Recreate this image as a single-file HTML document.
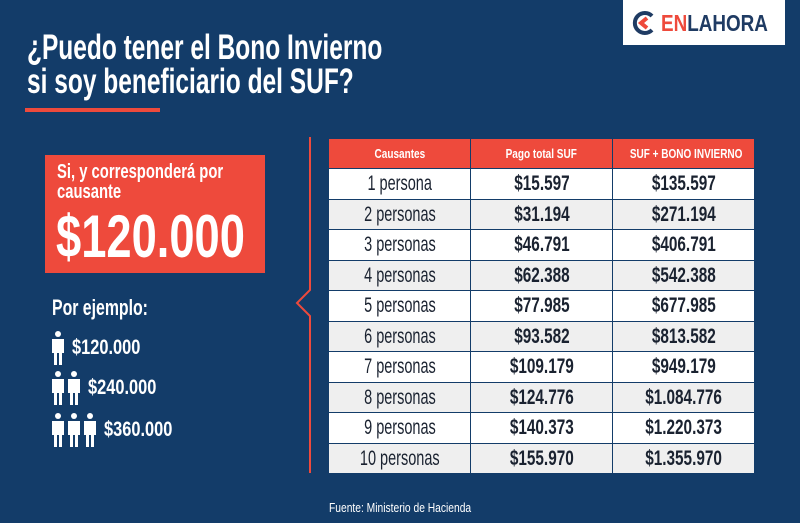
<!DOCTYPE html>
<html><head><meta charset="utf-8"><style>
body{margin:0;width:800px;height:523px;background:#133c69;position:relative;overflow:hidden;font-family:"Liberation Sans Narrow","Liberation Sans",sans-serif;font-weight:bold;color:#fff}
.a{position:absolute;white-space:nowrap}
.sx{transform-origin:0 0;display:inline-block}
.c{display:inline-block;transform:scaleX(0.73);white-space:nowrap}
table{position:absolute;left:328px;top:138px;border-collapse:collapse;width:427px;table-layout:fixed}
td{height:29.5px;border:1.5px solid #133c69;text-align:center;color:#1a2230;font-size:21px;line-height:21px;padding:0;width:142px;white-space:nowrap;overflow:visible}
th{height:29px;background:#ee4a3c;color:#fff;font-size:13px;font-weight:bold;border:1.5px solid #133c69;white-space:nowrap;padding:0}
tr:nth-child(odd) td{background:#efefef}
tr:nth-child(even) td{background:#fff}
td:first-child{font-weight:normal}
td:first-child .c{transform:scaleX(0.69)}
th .c{transform:scaleX(0.77)}
</style></head><body>
<div class="a" style="left:27px;top:31px;font-size:35px;line-height:34px"><span class="sx" style="transform:scaleX(0.70)">¿Puedo tener el Bono Invierno<br>si soy beneficiario del SUF?</span></div>
<div class="a" style="left:25px;top:108px;width:135px;height:4px;background:#ee4a3c"></div>
<div class="a" style="left:623px;top:0;width:162px;height:45px;background:#fff"></div>
<svg class="a" style="left:630px;top:9px" width="28" height="28" viewBox="0 0 28 28"><path d="M22 7 A10 10 0 1 0 22 21" fill="none" stroke="#1f3b63" stroke-width="4"/><path d="M17 9 L11 14 L17 19" fill="none" stroke="#ee4a3c" stroke-width="4"/></svg>
<div class="a" style="left:661px;top:10px;font-size:23px;font-family:'Liberation Sans',sans-serif"><span class="sx" style="transform:scaleX(0.82)"><span style="color:#ee4a3c">EN</span><span style="color:#1f3b63">LAHORA</span></span></div>
<div class="a" style="left:45px;top:155px;width:220px;height:118px;background:#ee4a3c"></div>
<div class="a" style="left:57px;top:162px;font-size:20px;line-height:20px"><span class="sx" style="transform:scaleX(0.74)">Si, y corresponderá por<br>causante</span></div>
<div class="a" style="left:56px;top:205px;font-size:60px;line-height:64px"><span class="sx" style="transform:scaleX(0.755)">$120.000</span></div>
<div class="a" style="left:52px;top:295px;font-size:22px"><span class="sx" style="transform:scaleX(0.72)">Por ejemplo:</span></div>
<svg class="a" style="left:0;top:0" width="800" height="523">
<defs><g id="p"><circle cx="6" cy="3" r="3" fill="#fff"/><path d="M0 8 H12 V22 H10 V34 H7 V22 H5 V34 H2 V22 H0Z" fill="#fff"/></g></defs>
<use href="#p" x="52" y="331"/>
<use href="#p" x="52" y="371"/><use href="#p" x="68" y="371"/>
<use href="#p" x="52" y="413"/><use href="#p" x="68" y="413"/><use href="#p" x="84" y="413"/>
<polyline points="310,137 310,290 297,303 310,316 310,473" fill="none" stroke="#ee4a3c" stroke-width="2"/>
</svg>
<div class="a" style="left:72px;top:336px;font-size:21px"><span class="sx" style="transform:scaleX(0.78)">$120.000</span></div>
<div class="a" style="left:88px;top:376px;font-size:21px"><span class="sx" style="transform:scaleX(0.78)">$240.000</span></div>
<div class="a" style="left:104px;top:418px;font-size:21px"><span class="sx" style="transform:scaleX(0.78)">$360.000</span></div>
<table>
<tr><th><span class="c">Causantes</span></th><th><span class="c">Pago total SUF</span></th><th><span class="c">SUF + BONO INVIERNO</span></th></tr>
<tr><td><span class="c">1 persona</span></td><td><span class="c">$15.597</span></td><td><span class="c">$135.597</span></td></tr>
<tr><td><span class="c">2 personas</span></td><td><span class="c">$31.194</span></td><td><span class="c">$271.194</span></td></tr>
<tr><td><span class="c">3 personas</span></td><td><span class="c">$46.791</span></td><td><span class="c">$406.791</span></td></tr>
<tr><td><span class="c">4 personas</span></td><td><span class="c">$62.388</span></td><td><span class="c">$542.388</span></td></tr>
<tr><td><span class="c">5 personas</span></td><td><span class="c">$77.985</span></td><td><span class="c">$677.985</span></td></tr>
<tr><td><span class="c">6 personas</span></td><td><span class="c">$93.582</span></td><td><span class="c">$813.582</span></td></tr>
<tr><td><span class="c">7 personas</span></td><td><span class="c">$109.179</span></td><td><span class="c">$949.179</span></td></tr>
<tr><td><span class="c">8 personas</span></td><td><span class="c">$124.776</span></td><td><span class="c">$1.084.776</span></td></tr>
<tr><td><span class="c">9 personas</span></td><td><span class="c">$140.373</span></td><td><span class="c">$1.220.373</span></td></tr>
<tr><td><span class="c">10 personas</span></td><td><span class="c">$155.970</span></td><td><span class="c">$1.355.970</span></td></tr>
</table>
<div class="a" style="left:329px;top:500px;font-size:13px;font-weight:normal"><span class="sx" style="transform:scaleX(0.79)">Fuente: Ministerio de Hacienda</span></div>
</body></html>
